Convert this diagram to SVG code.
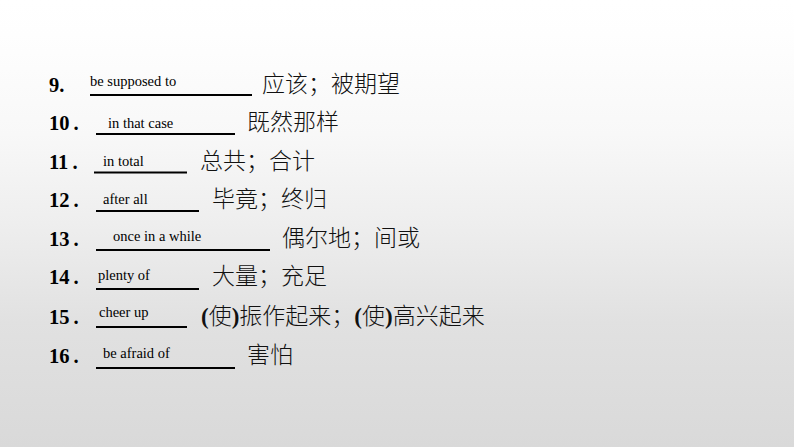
<svg xmlns="http://www.w3.org/2000/svg" width="794" height="447" viewBox="0 0 794 447">
<defs>
<linearGradient id="bg" x1="0" y1="0" x2="0" y2="1">
<stop offset="0" stop-color="#ffffff"/>
<stop offset="0.08" stop-color="#fefefe"/>
<stop offset="0.3" stop-color="#f8f8f8"/>
<stop offset="0.5" stop-color="#eeeeee"/>
<stop offset="0.72" stop-color="#e1e1e1"/>
<stop offset="1" stop-color="#d9d9d9"/>
</linearGradient>
</defs>
<style>
.num{font-family:"Liberation Serif","Times New Roman",serif;font-weight:bold;font-size:20.5px;fill:#000}
.ans{font-family:"Liberation Serif","Times New Roman",serif;font-size:14.5px;fill:#000}
.zh{font-family:"Noto Sans CJK SC","Liberation Serif",sans-serif;font-size:23px;font-weight:300;fill:#111}
.p{font-family:"Liberation Serif","Times New Roman",serif;font-weight:bold}
.ln{stroke:#000;stroke-width:2}
</style>
<rect width="794" height="447" fill="url(#bg)"/>
<g id="row9">
<text class="num" x="49" y="92">9.</text>
<line class="ln" x1="90" y1="95" x2="252" y2="95"/>
<text class="ans" x="90" y="86">be supposed to</text>
<text class="zh" x="262" y="92">应该；被期望</text>
</g>
<g id="row10">
<text class="num" x="49" y="130">10<tspan dx="4">.</tspan></text>
<line class="ln" x1="96" y1="134" x2="235" y2="134"/>
<text class="ans" x="108" y="127.5">in that case</text>
<text class="zh" x="247" y="130">既然那样</text>
</g>
<g id="row11">
<text class="num" x="49" y="169">11<tspan dx="4">.</tspan></text>
<line class="ln" x1="94" y1="172.5" x2="187" y2="172.5"/>
<text class="ans" x="103" y="166">in total</text>
<text class="zh" x="200" y="169">总共；合计</text>
</g>
<g id="row12">
<text class="num" x="49" y="207">12<tspan dx="4">.</tspan></text>
<line class="ln" x1="96" y1="211" x2="199" y2="211"/>
<text class="ans" x="103" y="204">after all</text>
<text class="zh" x="212" y="207">毕竟；终归</text>
</g>
<g id="row13">
<text class="num" x="49" y="246">13<tspan dx="4">.</tspan></text>
<line class="ln" x1="96" y1="250" x2="270" y2="250"/>
<text class="ans" x="113" y="241">once in a while</text>
<text class="zh" x="282" y="246">偶尔地；间或</text>
</g>
<g id="row14">
<text class="num" x="49" y="284">14<tspan dx="4">.</tspan></text>
<line class="ln" x1="96" y1="289" x2="199" y2="289"/>
<text class="ans" x="98" y="280">plenty of</text>
<text class="zh" x="212" y="284">大量；充足</text>
</g>
<g id="row15">
<text class="num" x="49" y="324">15<tspan dx="4">.</tspan></text>
<line class="ln" x1="96" y1="327" x2="187" y2="327"/>
<text class="ans" x="99" y="317">cheer up</text>
<text class="zh" x="201" y="324"><tspan class="p">(</tspan>使<tspan class="p">)</tspan>振作起来；<tspan class="p">(</tspan>使<tspan class="p">)</tspan>高兴起来</text>
</g>
<g id="row16">
<text class="num" x="49" y="363">16<tspan dx="4">.</tspan></text>
<line class="ln" x1="96" y1="368" x2="235" y2="368"/>
<text class="ans" x="103" y="358">be afraid of</text>
<text class="zh" x="247" y="363">害怕</text>
</g>
</svg>
